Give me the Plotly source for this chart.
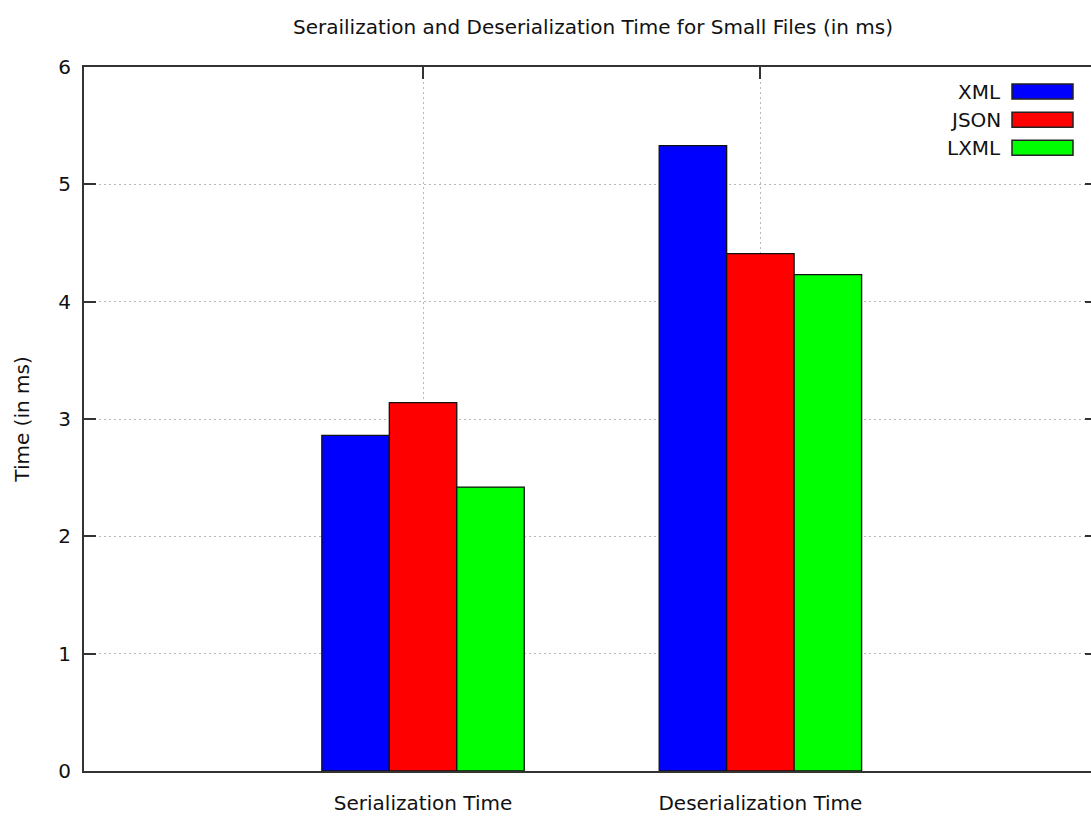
import plotly.graph_objects as go

# ---- data ----
categories = ["Serialization Time", "Deserialization Time"]
series_names = ["XML", "JSON", "LXML"]
xml_values = [2.86, 5.33]
json_values = [3.14, 4.41]
lxml_values = [2.42, 4.23]
y_ticks = [0, 1, 2, 3, 4, 5, 6]

colors = ["#0000ff", "#ff0000", "#00ff00"]
series_values = [xml_values, json_values, lxml_values]

W, H = 1091, 817
L, R, T, B = 84, 0, 67, 46
FONT = "DejaVu Sans"
FS = 20
AX = "#333333"
GRID = "#b8b8b8"
DOT = "2px,3px"

fig = go.Figure()
for name, vals, col in zip(series_names, series_values, colors):
    fig.add_trace(go.Bar(
        x=categories, y=vals, name=name,
        marker=dict(color=col, line=dict(color="#111111", width=1.3)),
        showlegend=False,
    ))

xr = [-1.005, 1.98]
yr = [0, 6]

fig.update_layout(
    width=W, height=H,
    margin=dict(l=L, r=R, t=T, b=B, autoexpand=False),
    paper_bgcolor="white", plot_bgcolor="white",
    font=dict(family=FONT, size=FS, color="#111111"),
    barmode="group", bargap=0.4, bargroupgap=0,
    title=dict(text="Serailization and Deserialization Time for Small Files (in ms)",
               x=(593 - L) / (W - L - R), xref="paper", xanchor="center",
               y=1 - 27 / H, yref="container", yanchor="middle",
               font=dict(size=FS, family=FONT)),
    xaxis=dict(range=xr, showline=True, linecolor=AX, linewidth=2,
               showgrid=True, gridcolor=GRID, griddash=DOT, gridwidth=1,
               ticks="", ticklabelstandoff=13, zeroline=False, automargin=False),
    yaxis=dict(range=yr, tickvals=y_ticks, showline=True, linecolor=AX, linewidth=2,
               showgrid=True, gridcolor=GRID, griddash=DOT, gridwidth=1,
               ticks="inside", ticklen=12, tickwidth=2, tickcolor=AX,
               ticklabelstandoff=7, zeroline=False, automargin=False,
               title=dict(text="Time (in ms)", standoff=23, font=dict(size=FS))),
    xaxis2=dict(overlaying="x", side="top", range=xr, tickvals=[0, 1],
                showticklabels=False, showgrid=False, zeroline=False,
                showline=True, linecolor=AX, linewidth=2,
                ticks="inside", ticklen=12, tickwidth=2, tickcolor=AX),
    yaxis2=dict(overlaying="y", side="right", range=yr, tickvals=y_ticks,
                showticklabels=False, showgrid=False, zeroline=False,
                showline=False,
                ticks="inside", ticklen=6, tickwidth=2, tickcolor=AX),
)

# invisible trace to anchor secondary axes
fig.add_trace(go.Scatter(x=[None], y=[None], xaxis="x2", yaxis="y2",
                         showlegend=False, hoverinfo="skip"))

# ---- custom gnuplot-style legend (text left of sample box) ----
pw, ph = W - L - R, H - T - B
def px(x):
    return (x - L) / pw
def py(y):
    return 1 - (y - T) / ph

row_y = [91.5, 119.7, 147.8]
for name, col, yc in zip(series_names, colors, row_y):
    fig.add_shape(type="rect", xref="paper", yref="paper",
                  x0=px(1012), x1=px(1073), y0=py(yc + 7.5), y1=py(yc - 7.5),
                  fillcolor=col, line=dict(color="#222222", width=1.5))
    fig.add_annotation(text=name, xref="paper", yref="paper",
                       x=px(1003), y=py(yc), xanchor="right", yanchor="middle",
                       showarrow=False, font=dict(size=FS, family=FONT))

fig.write_html("out.html")
